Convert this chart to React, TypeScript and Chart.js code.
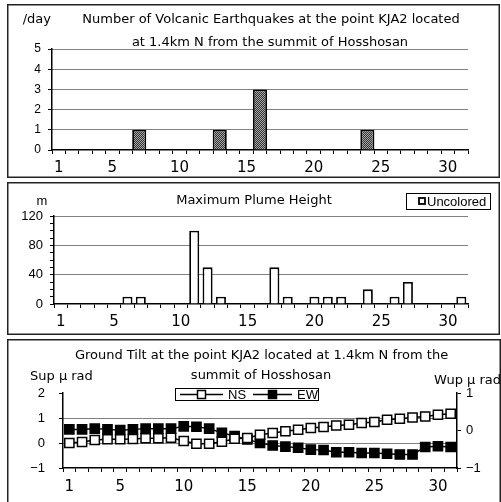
import React, { useEffect, useRef } from "react";
import { Chart, registerables } from "chart.js";

Chart.register(...registerables);

// ---------- data ----------
const days = ["1","2","3","4","5","6","7","8","9","10","11","12","13","14","15","16","17","18","19","20","21","22","23","24","25","26","27","28","29","30","31"];
const xLabelDays = ["1", "5", "10", "15", "20", "25", "30"];

const quakeCounts = [0,0,0,0,0,0,1,0,0,0,0,0,1,0,0,3,0,0,0,0,0,0,0,1,0,0,0,0,0,0,0];

const plumeHeights = [null,null,null,null,null,10,10,null,null,null,100,50,10,null,null,null,50,10,null,10,10,10,null,20,null,10,30,null,null,null,10];

const tiltNS = [0.00,0.04,0.12,0.15,0.15,0.16,0.19,0.19,0.21,0.08,-0.03,-0.03,0.05,0.17,0.20,0.33,0.40,0.47,0.53,0.60,0.64,0.70,0.73,0.80,0.84,0.93,0.97,1.02,1.06,1.13,1.17];
const tiltEW = [0.03,0.03,0.05,0.03,0.01,0.03,0.05,0.05,0.05,0.11,0.10,0.05,-0.06,-0.15,-0.24,-0.33,-0.40,-0.43,-0.46,-0.51,-0.52,-0.58,-0.58,-0.60,-0.60,-0.62,-0.64,-0.64,-0.44,-0.42,-0.44];

const quakeTitle = ["Number of Volcanic Earthquakes at the point KJA2 located", "at 1.4km N from the summit of Hosshosan"];
const plumeTitle = "Maximum Plume Height";
const tiltTitle = ["Ground Tilt at the point KJA2 located at 1.4km N from the", "summit of Hosshosan"];

const FONT = '"Liberation Sans", Arial, "Noto Sans CJK JP", sans-serif';
const TFONT = '"DejaVu Sans", "Liberation Sans", sans-serif';

type Txt = { text: string; x: number; y: number; size: number; align?: CanvasTextAlign; family?: string };

function decorPlugin(texts: Txt[], extra?: (ctx: CanvasRenderingContext2D) => void) {
  return {
    id: "decor",
    afterDraw(chart: any) {
      const ctx: CanvasRenderingContext2D = chart.ctx;
      ctx.save();
      const w = chart.width;
      const h = chart.height;
      ctx.strokeStyle = "#222";
      ctx.lineWidth = 1.5;
      ctx.strokeRect(0.75, 0.75, w - 1.5, h - 1.5);
      ctx.fillStyle = "#000";
      ctx.textBaseline = "alphabetic";
      for (const t of texts) {
        ctx.font = `${t.size}px ${t.family ?? TFONT}`;
        ctx.textAlign = t.align ?? "left";
        ctx.fillText(t.text, t.x, t.y);
      }
      if (extra) extra(ctx);
      ctx.restore();
    },
  };
}

function xScale(height: number, pad: number): any {
  return {
    type: "category",
    offset: true,
    grid: { offset: true, drawOnChartArea: false, drawTicks: true, tickLength: 4, tickColor: "#000", tickWidth: 1 },
    border: { display: true, color: "#000", width: 1.5 },
    ticks: {
      autoSkip: false,
      maxRotation: 0,
      minRotation: 0,
      padding: pad,
      color: "#000",
      font: { family: TFONT, size: 15 },
      callback: (_v: any, i: number) => (xLabelDays.includes(days[i]) ? days[i] : ""),
    },
    afterFit: (s: any) => {
      s.height = height;
    },
  };
}

const minus = (v: number) => (v < 0 ? "\u2212" + Math.abs(v) : String(v));

export default function App() {
  const c1 = useRef<HTMLCanvasElement>(null);
  const c2 = useRef<HTMLCanvasElement>(null);
  const c3 = useRef<HTMLCanvasElement>(null);

  useEffect(() => {
    const charts: Chart[] = [];

    // pattern for quake bars
    const pc = document.createElement("canvas");
    pc.width = 2;
    pc.height = 2;
    const pctx = pc.getContext("2d")!;
    pctx.fillStyle = "#a8a8a8";
    pctx.fillRect(0, 0, 2, 2);
    pctx.fillStyle = "#333333";
    pctx.fillRect(0, 0, 1, 1);
    pctx.fillRect(1, 1, 1, 1);
    const pattern = c1.current!.getContext("2d")!.createPattern(pc, "repeat")!;

    // ---------- Panel 1 ----------
    charts.push(
      new Chart(c1.current!, {
        type: "bar",
        data: {
          labels: days,
          datasets: [
            {
              data: quakeCounts,
              backgroundColor: pattern as any,
              borderColor: "#000",
              borderWidth: 1.8,
              barPercentage: 1.05,
              categoryPercentage: 1,
            },
          ],
        },
        options: {
          responsive: false,
          animation: false,
          layout: { padding: { left: 0, top: 45, right: 32, bottom: 0 } },
          plugins: { legend: { display: false }, tooltip: { enabled: false } },
          scales: {
            x: xScale(28, 5),
            y: {
              min: 0,
              max: 5,
              ticks: { stepSize: 1, padding: 7, color: "#000", font: { family: FONT, size: 12 } },
              grid: {
                color: (c: any) => (c.tick && c.tick.value === 0 ? "transparent" : "#000"),
                lineWidth: 1,
                tickLength: 4,
                tickColor: "#000",
              },
              border: { display: true, color: "#000", width: 1.5, dash: [1, 1] },
              afterFit: (s: any) => {
                s.width = 45;
              },
            },
          },
        },
        plugins: [
          decorPlugin([
            { text: "/day", x: 15.7, y: 19.3, size: 13 },
            { text: quakeTitle[0], x: 264, y: 19.3, size: 13, align: "center" },
            { text: quakeTitle[1], x: 263, y: 41.7, size: 13, align: "center" },
          ]) as any,
        ],
      })
    );

    // ---------- Panel 2 ----------
    charts.push(
      new Chart(c2.current!, {
        type: "bar",
        data: {
          labels: days,
          datasets: [
            {
              data: plumeHeights as any,
              backgroundColor: "#fff",
              borderColor: "#000",
              borderWidth: 1.8,
              barPercentage: 0.75,
              categoryPercentage: 1,
            },
          ],
        },
        options: {
          responsive: false,
          animation: false,
          layout: { padding: { left: 0, top: 34, right: 32, bottom: 0 } },
          plugins: { legend: { display: false }, tooltip: { enabled: false } },
          scales: {
            x: xScale(31, 5),
            y: {
              min: 0,
              max: 120,
              ticks: {
                stepSize: 10,
                autoSkip: false,
                padding: 7,
                color: "#000",
                font: { family: FONT, size: 13 },
                callback: (v: any) => (Number(v) % 40 === 0 ? String(v) : ""),
              },
              grid: {
                color: (c: any) => (c.tick && c.tick.value % 40 === 0 && c.tick.value > 0 ? "#000" : "transparent"),
                lineWidth: 1,
                tickLength: 4,
                tickColor: "#000",
              },
              border: { display: true, color: "#000", width: 1.5, dash: [1, 1] },
              afterFit: (s: any) => {
                s.width = 47;
              },
            },
          },
        },
        plugins: [
          decorPlugin(
            [
              { text: "m", x: 35, y: 23, size: 13, align: "center", family: FONT },
              { text: plumeTitle, x: 247, y: 22.3, size: 13, align: "center" },
            ],
            (ctx) => {
              // legend box
              ctx.fillStyle = "#fff";
              ctx.fillRect(399, 11, 84, 16);
              ctx.strokeStyle = "#000";
              ctx.lineWidth = 1;
              ctx.strokeRect(399.5, 11.5, 84, 16);
              ctx.lineWidth = 1.8;
              ctx.strokeRect(412, 16, 6, 6);
              ctx.fillStyle = "#000";
              ctx.font = `13px ${FONT}`;
              ctx.textAlign = "left";
              ctx.fillText("Uncolored", 420, 24);
            }
          ) as any,
        ],
      })
    );

    // ---------- Panel 3 ----------
    const pointCommon = {
      borderColor: "#000",
      borderWidth: 1.5,
      pointStyle: "rect",
      pointRadius: 6.5,
      pointBorderColor: "#000",
      pointBorderWidth: 1.5,
      tension: 0,
    };
    charts.push(
      new Chart(c3.current!, {
        type: "line",
        data: {
          labels: days,
          datasets: [
            { label: "NS", data: tiltNS, yAxisID: "yL", pointBackgroundColor: "#fff", ...pointCommon } as any,
            { label: "EW", data: tiltEW, yAxisID: "yR", pointBackgroundColor: "#000", ...pointCommon } as any,
          ],
        },
        options: {
          responsive: false,
          animation: false,
          layout: { padding: { left: 0, top: 54, right: 0, bottom: 0 } },
          plugins: { legend: { display: false }, tooltip: { enabled: false } },
          scales: {
            x: xScale(41, 6),
            yL: {
              position: "left",
              min: -1,
              max: 2,
              ticks: { stepSize: 1, padding: 14, color: "#000", font: { family: FONT, size: 13 }, callback: (v: any) => minus(Number(v)) },
              grid: {
                color: (c: any) => (c.tick && (c.tick.value === 1 || c.tick.value === 0) ? "#000" : "transparent"),
                lineWidth: 1,
                tickLength: 4,
                tickColor: "#000",
              },
              border: { display: true, color: "#000", width: 1.5, dash: [1, 1] },
              afterFit: (s: any) => {
                s.width = 56;
              },
            },
            yR: {
              position: "right",
              min: -1,
              max: 1,
              ticks: { stepSize: 1, padding: 5, color: "#000", font: { family: FONT, size: 13 }, callback: (v: any) => minus(Number(v)) },
              grid: { drawOnChartArea: false, tickLength: 4, tickColor: "#000" },
              border: { display: true, color: "#000", width: 1.5 },
              afterFit: (s: any) => {
                s.width = 44;
              },
            },
          },
        },
        plugins: [
          decorPlugin(
            [
              { text: tiltTitle[0], x: 254.5, y: 20, size: 13, align: "center" },
              { text: tiltTitle[1], x: 254, y: 40.3, size: 13, align: "center" },
              { text: "Sup \u03bc rad", x: 23, y: 41, size: 13 },
              { text: "Wup \u03bc rad", x: 494, y: 45, size: 13, align: "right" },
            ],
            (ctx) => {
              ctx.fillStyle = "#fff";
              ctx.fillRect(168, 49, 143, 12);
              ctx.strokeStyle = "#000";
              ctx.lineWidth = 1;
              ctx.strokeRect(168.5, 49.5, 143, 12);
              const cy = 55.5;
              // NS item
              ctx.lineWidth = 1.5;
              ctx.beginPath();
              ctx.moveTo(173, cy);
              ctx.lineTo(216, cy);
              ctx.stroke();
              ctx.fillStyle = "#fff";
              ctx.fillRect(190.5, cy - 4, 8, 8);
              ctx.strokeRect(190.5, cy - 4, 8, 8);
              // EW item
              ctx.beginPath();
              ctx.moveTo(246, cy);
              ctx.lineTo(285, cy);
              ctx.stroke();
              ctx.fillStyle = "#000";
              ctx.fillRect(261.5, cy - 4, 8, 8);
              ctx.strokeRect(261.5, cy - 4, 8, 8);
              ctx.font = `13px ${FONT}`;
              ctx.textAlign = "left";
              ctx.fillText("NS", 221, 60);
              ctx.fillText("EW", 290, 60);
            }
          ) as any,
        ],
      })
    );

    return () => {
      charts.forEach((c) => c.destroy());
    };
  }, []);

  const abs = (l: number, t: number): React.CSSProperties => ({ position: "absolute", left: l, top: t, display: "block" });

  return (
    <div style={{ position: "absolute", left: 0, top: 0, width: 501, height: 502, overflow: "hidden", background: "#fff" }}>
      <canvas ref={c1} width={493} height={174} style={abs(7, 4)} />
      <canvas ref={c2} width={493} height={153} style={abs(7, 182)} />
      <canvas ref={c3} width={494} height={170} style={abs(7, 339)} />
    </div>
  );
}
